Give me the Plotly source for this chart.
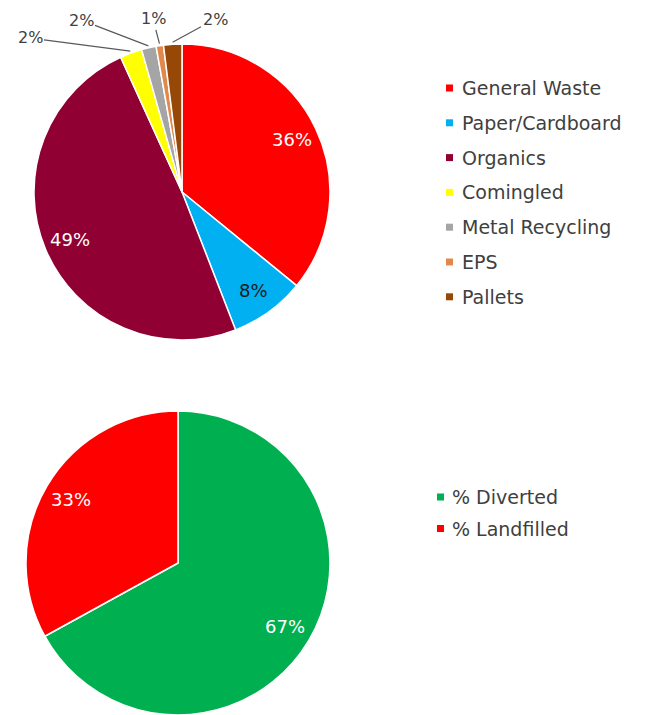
import math
import plotly.graph_objects as go

WIN_W, WIN_H = 648, 715
OFF = 8  # page body margin in the browser
W, H = WIN_W - OFF, WIN_H - OFF

# ---- data ----
waste_labels = ["General Waste", "Paper/Cardboard", "Organics", "Comingled",
                "Metal Recycling", "EPS", "Pallets"]
waste_values = [35.9, 8.2, 49.1, 2.4, 1.6, 0.8, 2.0]
waste_colors = ["#FF0000", "#00B0F0", "#900033", "#FFFF00", "#A5A5A5", "#E2884A", "#974706"]

diversion_labels = ["% Diverted", "% Landfilled"]
diversion_values = [67, 33]
diversion_colors = ["#00B050", "#FF0000"]

# ---- style / layout (window pixel coordinates) ----
FONT = "DejaVu Sans"
TEXT_DARK = "#404040"

top_geo = (182, 192, 148)
bot_geo = (178, 563, 152)

top_inside_colors = ["white", "#1a1a1a", "white", None, None, None, None]
top_outside_targets = [None, None, None, (30, 38), (81, 20), (153, 19), (215, 19)]
bot_inside_colors = ["white", "white"]
bot_outside_targets = [None, None]


def px2paper(x, y):
    return (x - OFF) / W, 1 - (y - OFF) / H


def domain_of(geo):
    cx, cy, r = geo
    x0, y0 = px2paper(cx - r, cy + r)
    x1, y1 = px2paper(cx + r, cy - r)
    return dict(x=[x0, x1], y=[y0, y1])


fig = go.Figure()
for labels, values, colors, geo in [
    (waste_labels, waste_values, waste_colors, top_geo),
    (diversion_labels, diversion_values, diversion_colors, bot_geo),
]:
    fig.add_trace(go.Pie(
        labels=labels, values=values, sort=False, direction="clockwise",
        rotation=0, textinfo="none", hoverinfo="label+percent",
        marker=dict(colors=colors, line=dict(color="white", width=1.5)),
        domain=domain_of(geo), showlegend=False,
    ))

annotations = []


def add_labels(values, geo, inside_colors, outside_targets):
    cx, cy, r = geo
    total = sum(values)
    cum = 0.0
    for i, v in enumerate(values):
        mid = (cum + v / 2) / total * 2 * math.pi
        cum += v
        pct = f"{round(100 * v / total)}%"
        if outside_targets[i] is None:
            px = cx + 0.82 * r * math.sin(mid)
            py = cy - 0.82 * r * math.cos(mid)
            x, y = px2paper(px, py)
            annotations.append(dict(
                x=x, y=y, xref="paper", yref="paper", text=pct, showarrow=False,
                xanchor="center", yanchor="middle",
                font=dict(family=FONT, size=18, color=inside_colors[i]),
            ))
        else:
            hx = cx + (r + 2) * math.sin(mid)
            hy = cy - (r + 2) * math.cos(mid)
            tx, ty = outside_targets[i]
            x, y = px2paper(hx, hy)
            annotations.append(dict(
                x=x, y=y, xref="paper", yref="paper", text=pct, showarrow=True,
                arrowhead=0, arrowwidth=1.2, arrowcolor="#595959",
                ax=tx - hx, ay=ty - hy, standoff=0,
                font=dict(family=FONT, size=16, color=TEXT_DARK),
            ))


add_labels(waste_values, top_geo, top_inside_colors, top_outside_targets)
add_labels(diversion_values, bot_geo, bot_inside_colors, bot_outside_targets)

shapes = []


def add_legend(labels, colors, sq_x, text_x, y0, dy):
    for i, (lab, col) in enumerate(zip(labels, colors)):
        yc = y0 + i * dy
        x0p, y0p = px2paper(sq_x, yc + 3.5)
        x1p, y1p = px2paper(sq_x + 7, yc - 3.5)
        shapes.append(dict(type="rect", xref="paper", yref="paper",
                           x0=x0p, y0=y0p, x1=x1p, y1=y1p,
                           fillcolor=col, line=dict(width=0)))
        tx, ty = px2paper(text_x, yc)
        annotations.append(dict(
            x=tx, y=ty, xref="paper", yref="paper", text=lab, showarrow=False,
            xanchor="left", yanchor="middle",
            font=dict(family=FONT, size=19, color=TEXT_DARK),
        ))


add_legend(waste_labels, waste_colors, 446, 460, 88, 34.8)
add_legend(diversion_labels, diversion_colors, 437, 450, 497, 31.5)

fig.update_layout(
    width=W, height=H, margin=dict(l=0, r=0, t=0, b=0),
    paper_bgcolor="white", plot_bgcolor="white",
    annotations=annotations, shapes=shapes, showlegend=False,
    font=dict(family=FONT),
)

fig.write_html("out.html")
